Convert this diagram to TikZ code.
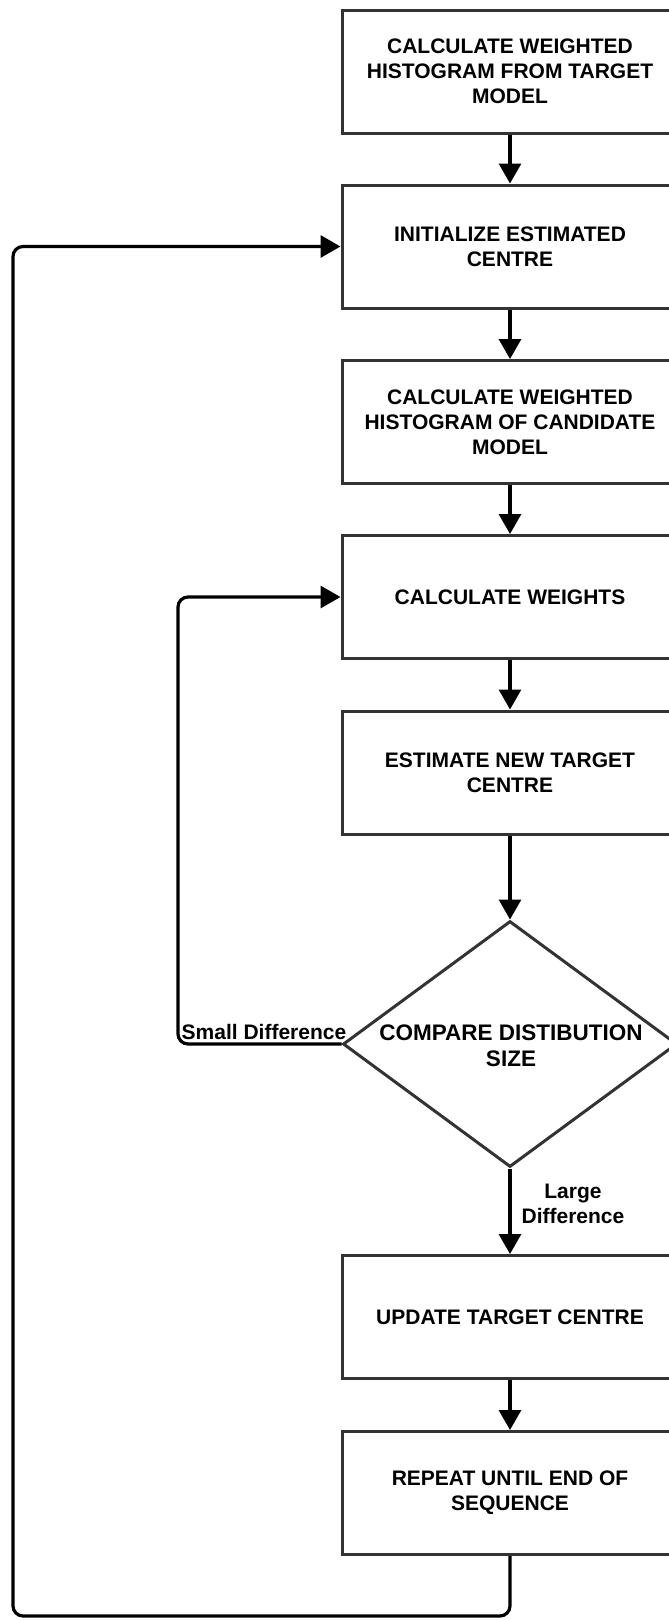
\documentclass[tikz,border=0pt]{standalone}
\usepackage{fontspec}
\setmainfont{Liberation Sans}
\usetikzlibrary{arrows.meta,shapes.geometric}
\begin{document}
\begin{tikzpicture}[x=1pt,y=-1pt,
  stepbox/.style={draw=black!80, line width=3pt, minimum width=336pt,
    minimum height=123pt, align=center, inner sep=0pt,
    font=\fontsize{21}{25}\selectfont\bfseries},
  decision/.style={diamond, draw=black!80, line width=3pt,
    minimum width=334pt, minimum height=246pt, inner sep=0pt},
  flow/.style={draw=black, line width=3.2pt, rounded corners=10pt,
    -{Triangle[length=20pt,width=22pt]}},
  lbl/.style={font=\fontsize{21}{25}\selectfont\bfseries, inner sep=0pt}]
\useasboundingbox (0,0) rectangle (669,1620);
\clip (0,0) rectangle (669,1620);

% process steps
\node[stepbox] (b1) at (510,71.5)  {CALCULATE WEIGHTED\\HISTOGRAM FROM TARGET\\MODEL};
\node[stepbox] (b2) at (510,246.5) {INITIALIZE ESTIMATED\\CENTRE};
\node[stepbox] (b3) at (510,422)   {CALCULATE WEIGHTED\\HISTOGRAM OF CANDIDATE\\MODEL};
\node[stepbox] (b4) at (510,597)   {CALCULATE WEIGHTS};
\node[stepbox] (b5) at (510,772.5) {ESTIMATE NEW TARGET\\CENTRE};
\node[decision] (cmp) at (510,1044) {};
\node[lbl, align=center, font=\fontsize{22.5}{26}\selectfont\bfseries] (cmptext) at (511,1046) {COMPARE DISTIBUTION\\SIZE};
\node[stepbox] (b6) at (510,1317)  {UPDATE TARGET CENTRE};
\node[stepbox] (b7) at (510,1493)  {REPEAT UNTIL END OF\\SEQUENCE};

% main sequence
\draw[flow] (b1) -- (b2);
\draw[flow] (b2) -- (b3);
\draw[flow] (b3) -- (b4);
\draw[flow] (b4) -- (b5);
\draw[flow] (b5) -- (cmp);
\draw[flow] (cmp) -- (b6);
\draw[flow] (b6) -- (b7);

% inner loop: small difference back to the weights
\coordinate (sbend) at (178,0);
\draw[flow] (cmp.west) -| (sbend |- b4.west) -- (b4.west);
\node[lbl, anchor=base east] (small) at ([xshift=5pt,yshift=5pt]cmp.west) {Small Difference};

% large difference label
\node[lbl, align=center] (large) at (573,1204) {Large\\Difference};

% outer loop: back to the initial centre
\coordinate (obend) at (13,1616);
\draw[flow] (b7.south) |- (obend) |- (b2.west);
\end{tikzpicture}
\end{document}
